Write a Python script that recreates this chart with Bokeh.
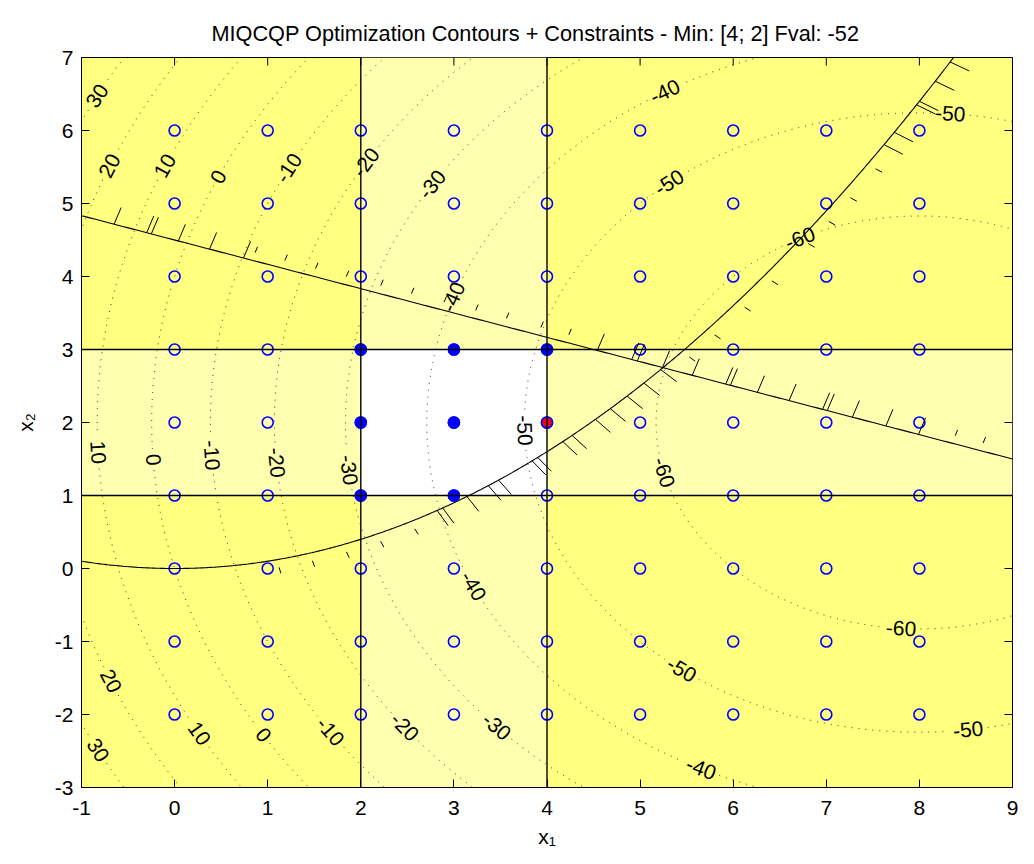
import numpy as np
from bokeh.plotting import figure
from bokeh.models import FixedTicker, ColumnDataSource, CustomJSTickFormatter
from bokeh.core.properties import value
from bokeh.embed import file_html
from bokeh.resources import INLINE

# ---------------- data ----------------
title_text = "MIQCQP Optimization Contours + Constraints - Min: [4; 2] Fval: -52"
x_label = "x\u2081"
y_label = "x\u2082"
x_ticks = [-1, 0, 1, 2, 3, 4, 5, 6, 7, 8, 9]
y_ticks = [-3, -2, -1, 0, 1, 2, 3, 4, 5, 6, 7]

# objective: 0.5 x'Hx + f'x
H_obj = [[2.0, 0.0], [0.0, 2.0]]
f_obj = [-16.0, -4.0]
contour_levels = [-60, -50, -40, -30, -20, -10, 0, 10, 20, 30]

# linear constraint a'x <= b
A_lin = [1.0, 3.0]
b_lin = 13.5
# quadratic constraint x'Qx + l'x <= r
Q_quad = [[1.0, 0.0], [0.0, 0.0]]
l_quad = [0.0, -10.0]
r_quad = 0.0

# bounds
lb = [2, 1]
ub = [4, 3]

# integer grid points
grid_x1 = [0, 1, 2, 3, 4, 5, 6, 7, 8]
grid_x2 = [-2, -1, 0, 1, 2, 3, 4, 5, 6]
feas_x1 = [2, 3, 4, 2, 3, 2, 3]
feas_x2 = [3, 3, 3, 2, 2, 1, 1]
opt_x1 = [4]
opt_x2 = [2]

# contour labels (level, approx position)
label_level = [30, 30, 20, 20, 10, 10, 10, 0, 0, 0, -10, -10, -10, -20, -20, -20,
               -30, -30, -30, -40, -40, -40, -40, -50, -50, -50, -50, -50, -60, -60, -60]
label_x1 = [-0.80, -0.87, -0.67, -0.76, -0.08, -0.85, 0.19, 0.51, -0.28, 0.90, 1.24, 0.33, 1.62,
            1.96, 1.00, 2.40, 2.77, 1.84, 3.39, 5.27, 3.02, 3.18, 5.65, 5.33, 8.33, 3.72, 5.41, 8.53,
            6.73, 5.22, 7.80]
label_x2 = [6.45, -2.52, 5.50, -1.60, 5.50, 1.59, -2.33, 5.34, 1.48, -2.33, 5.48, 1.55, -2.29,
            5.66, 1.44, -2.26, 5.25, 1.34, -2.26, 6.52, 3.70, -0.26, -2.77, 5.25, 6.16, 1.89, -1.47, -2.29,
            4.49, 1.30, -0.89]

# hatch positions (x1) along constraints
lin_hatch = [-0.65, -0.30, -0.25, 0.04, 0.375, 0.74, 4.54, 4.91, 4.97, 5.24, 5.56, 5.92, 5.97,
             6.26, 6.60, 6.96, 7.01, 7.28, 7.64, 7.99]
lin_hatch_short = [0.83, 1.15, 1.48, 1.81, 2.18, 2.51, 2.86, 3.20, 3.53, 3.90, 4.20, 8.35, 8.65]
quad_hatch = [2.82, 2.88, 3.14, 3.37, 3.48, 3.84, 3.90, 4.17, 4.27, 4.52, 4.68, 4.86, 5.04, 5.22,
              7.62, 7.73, 7.97, 8.00, 8.17, 8.33]
quad_hatch_short = [1.10, 1.45, 1.81, 2.17, 2.53, 5.45, 5.72, 6.04, 6.33, 6.72, 6.94, 7.17, 7.44]

# ---------------- layout ----------------
W, HT = 1034, 864
BL, BR, BT, BB = 81, 22, 57, 77
xr = (-1, 9)
yr = (-3, 7)
SX = (W - BL - BR) / (xr[1] - xr[0])
SY = (HT - BT - BB) / (yr[1] - yr[0])
FONT = "Liberation Sans"
FS = 21
TICK = 8

DARK = "#FFFF80"
LIGHT = "#FFFFB0"

p = figure(width=W, height=HT, x_range=xr, y_range=yr, output_backend="svg",
           toolbar_location=None,
           min_border_left=BL, min_border_right=BR, min_border_top=BT, min_border_bottom=BB)
p.background_fill_color = DARK
p.border_fill_color = "white"
p.outline_line_color = "black"
p.outline_line_width = 1
p.grid.visible = False

p.title.text = title_text
p.title.align = "left"
p.title.offset = 130
p.title.text_font = FONT
p.title.text_font_size = "21.7px"
p.title.text_font_style = "normal"
p.title.text_color = "black"
p.title.standoff = 24

fmt = CustomJSTickFormatter(code="return tick.toString();")
for ax in (p.xaxis[0], p.yaxis[0]):
    ax.major_tick_in = TICK
    ax.major_tick_out = 0
    ax.minor_tick_line_color = None
    ax.axis_line_color = "black"
    ax.major_tick_line_color = "black"
    ax.major_label_text_font = FONT
    ax.major_label_text_font_size = f"{FS}px"
    ax.major_label_text_color = "black"
    ax.formatter = fmt
    ax.axis_label_text_font = FONT
    ax.axis_label_text_font_size = f"{FS}px"
    ax.axis_label_text_font_style = "normal"
    ax.axis_label_text_color = "black"
p.xaxis[0].ticker = FixedTicker(ticks=x_ticks)
p.yaxis[0].ticker = FixedTicker(ticks=y_ticks)
p.xaxis[0].major_label_standoff = 13
p.yaxis[0].major_label_standoff = 8
p.xaxis[0].axis_label = x_label
p.yaxis[0].axis_label = y_label
p.xaxis[0].axis_label_standoff = 7
p.yaxis[0].axis_label_standoff = 15

# ---------------- shading of bounds ----------------
p.quad(left=[lb[0]], right=[ub[0]], bottom=[yr[0]], top=[yr[1]], fill_color=LIGHT, line_color=None)
p.quad(left=[xr[0]], right=[xr[1]], bottom=[lb[1]], top=[ub[1]], fill_color=LIGHT, line_color=None)
p.quad(left=[lb[0]], right=[ub[0]], bottom=[lb[1]], top=[ub[1]], fill_color="white", line_color=None)

# ---------------- contours ----------------
Hm = np.array(H_obj)
fv = np.array(f_obj)
center = -np.linalg.solve(Hm, fv)
fmin = 0.5 * fv @ center
w, V = np.linalg.eigh(Hm)
t = np.linspace(0, 2 * np.pi, 4000)

char_w = {"-": 0.333}
def text_width(s):
    return sum(char_w.get(ch, 0.556) for ch in s) * FS

def to_px(x, y):
    return (np.asarray(x) - xr[0]) * SX, (np.asarray(y) - yr[0]) * SY

contours = {}
for lev in contour_levels:
    rad = np.sqrt(2 * (lev - fmin) / w)
    pts = center[:, None] + V @ (rad[:, None] * np.vstack([np.cos(t), np.sin(t)]))
    contours[lev] = pts

lab_x, lab_y, lab_t, lab_a = [], [], [], []
gaps = {lev: [] for lev in contour_levels}
for lev, lx, ly in zip(label_level, label_x1, label_x2):
    pts = contours[lev]
    px, py = to_px(pts[0], pts[1])
    qx, qy = to_px(lx, ly)
    i = int(np.argmin((px - qx) ** 2 + (py - qy) ** 2))
    n = len(t)
    dx = px[(i + 1) % n] - px[(i - 1) % n]
    dy = py[(i + 1) % n] - py[(i - 1) % n]
    ang = np.arctan2(dy, dx)
    if ang > np.pi / 2:
        ang -= np.pi
    elif ang <= -np.pi / 2:
        ang += np.pi
    txt = str(lev)
    lab_x.append(pts[0][i]); lab_y.append(pts[1][i]); lab_t.append(txt); lab_a.append(ang)
    gaps[lev].append((px[i], py[i], text_width(txt) / 2 + 4))

cxs, cys = [], []
for lev in contour_levels:
    pts = contours[lev]
    px, py = to_px(pts[0], pts[1])
    keep = np.ones(len(t), dtype=bool)
    for gx, gy, hw in gaps[lev]:
        keep &= np.hypot(px - gx, py - gy) > hw
    idx = np.where(keep)[0]
    if len(idx) == 0:
        continue
    breaks = np.where(np.diff(idx) > 1)[0]
    starts = np.concatenate([[0], breaks + 1])
    ends = np.concatenate([breaks + 1, [len(idx)]])
    for s, e in zip(starts, ends):
        seg = idx[s:e]
        if len(seg) > 1:
            cxs.append(pts[0][seg]); cys.append(pts[1][seg])
p.multi_line(xs=cxs, ys=cys, line_color="#303030", line_width=1, line_dash="1 6")

# ---------------- markers ----------------
gx, gy = np.meshgrid(grid_x1, grid_x2)
p.scatter(gx.ravel(), gy.ravel(), marker="circle", size=11, fill_color=None,
          line_color="#0000FF", line_width=1.6)
p.scatter(feas_x1, feas_x2, marker="circle", size=11, fill_color="#0000FF",
          line_color="#0000FF", line_width=1.6)
p.scatter(opt_x1, opt_x2, marker="circle", size=11, fill_color="#FF0000",
          line_color="#0000FF", line_width=1.6)

# ---------------- bound lines ----------------
p.segment(x0=[lb[0], ub[0]], y0=[yr[0], yr[0]], x1=[lb[0], ub[0]], y1=[yr[1], yr[1]],
          line_color="black", line_width=1.4)
p.segment(x0=[xr[0], xr[0]], y0=[lb[1], ub[1]], x1=[xr[1], xr[1]], y1=[lb[1], ub[1]],
          line_color="black", line_width=1.4)

# ---------------- constraints ----------------
xl = np.linspace(xr[0], xr[1], 200)
lin_y = lambda x: (b_lin - A_lin[0] * np.asarray(x)) / A_lin[1]
Qm = np.array(Q_quad)
quad_y = lambda x: (Qm[0, 0] * np.asarray(x) ** 2 + l_quad[0] * np.asarray(x) - r_quad) / (-l_quad[1])
p.line(xl, lin_y(xl), line_color="black", line_width=1.1)
xq = np.linspace(xr[0], xr[1], 600)
p.line(xq, quad_y(xq), line_color="black", line_width=1.1)

HL = 0.24
def hatch(xs, yfun, gradfun, f0, f1):
    xs = np.asarray(xs, dtype=float)
    ys = yfun(xs)
    g = gradfun(xs, ys)
    nrm = np.hypot(g[0], g[1])
    ux, uy = g[0] / nrm, g[1] / nrm
    return xs + ux * HL * f0, ys + uy * HL * f0, xs + ux * HL * f1, ys + uy * HL * f1

lin_grad = lambda x, y: (np.full_like(x, A_lin[0]), np.full_like(x, A_lin[1]))
quad_grad = lambda x, y: (2 * Qm[0, 0] * x + l_quad[0], 2 * Qm[1, 1] * y + l_quad[1])

for xs, yf, gf, f0, f1 in ((lin_hatch, lin_y, lin_grad, 0.0, 1.0),
                           (lin_hatch_short, lin_y, lin_grad, 0.45, 0.8),
                           (quad_hatch, quad_y, quad_grad, 0.0, 1.0),
                           (quad_hatch_short, quad_y, quad_grad, 0.45, 0.8)):
    a0, b0, a1, b1 = hatch(xs, yf, gf, f0, f1)
    p.segment(x0=a0, y0=b0, x1=a1, y1=b1, line_color="black", line_width=1)

# ---------------- ticks on top and right edges ----------------
p.segment(x0=x_ticks, y0=[yr[1]] * len(x_ticks), x1=x_ticks,
          y1=[yr[1] - TICK / SY] * len(x_ticks), line_color="black", line_width=1)
p.segment(x0=[xr[1]] * len(y_ticks), y0=y_ticks, x1=[xr[1] - TICK / SX] * len(y_ticks),
          y1=y_ticks, line_color="black", line_width=1)

# ---------------- contour labels ----------------
src = ColumnDataSource(dict(x=lab_x, y=lab_y, text=lab_t, angle=lab_a))
p.text(x="x", y="y", text="text", angle="angle", source=src, text_align="center",
       text_baseline="middle", text_font=value(FONT), text_font_size=f"{FS}px", text_color="black")

open("out.html", "w").write(file_html(p, INLINE))
